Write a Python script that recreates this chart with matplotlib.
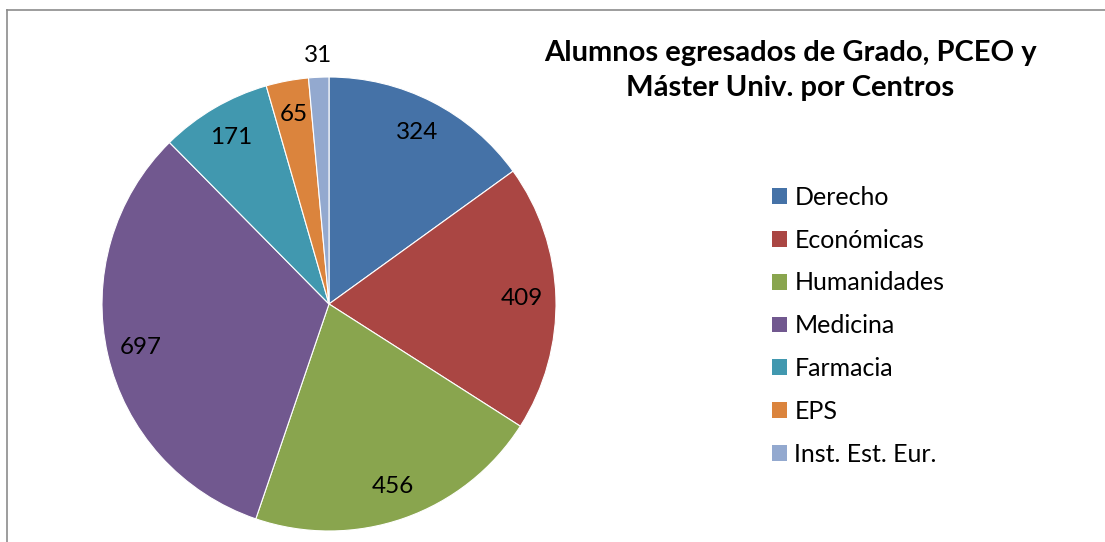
import matplotlib
matplotlib.use("Agg")
from matplotlib import pyplot as plt
from matplotlib.patches import Patch
from matplotlib.lines import Line2D

centros = ["Derecho", "Económicas", "Humanidades", "Medicina",
           "Farmacia", "EPS", "Inst. Est. Eur."]
egresados = [324, 409, 456, 697, 171, 65, 31]
colores = ["#4572A7", "#AA4643", "#89A54E", "#71588F",
           "#4198AF", "#DB843D", "#93A9CF"]
titulo = "Alumnos egresados de Grado, PCEO y\nMáster Univ. por Centros"

plt.rcParams['font.family'] = ['Lato', 'DejaVu Sans']

W, H = 1105, 542
fig = plt.figure(figsize=(W / 100, H / 100), dpi=100)
ax = fig.add_axes([0, 0, 1, 1])

# chart frame (only top and left are visible in the crop)
fig.add_artist(Line2D([6.5 / W, 6.5 / W], [0, 1 - 10 / H], color="#8c8c8c", lw=1.2))
fig.add_artist(Line2D([6.5 / W, 1], [1 - 10 / H, 1 - 10 / H], color="#8c8c8c", lw=1.2))

cx, cy, r = 329, H - 304, 227
wedges, texts = ax.pie(egresados, colors=colores, startangle=90, counterclock=False,
                       center=(cx, cy), radius=r, labels=[str(v) for v in egresados],
                       labeldistance=0.85, frame=True,
                       wedgeprops=dict(edgecolor="white", linewidth=0.8),
                       textprops=dict(fontsize=17.5, color="black",
                                      ha="center", va="center"))
ax.set_xlim(0, W)
ax.set_ylim(0, H)
ax.set_aspect("auto")
ax.axis("off")
# small slice label sits outside the pie
texts[-1].set_position((318, H - 55))

fig.text(790 / W, 1 - 70.5 / H, titulo, ha="center", va="center",
         fontsize=21, fontweight="bold", linespacing=1.42)

handles = [Patch(facecolor=c, edgecolor="none") for c in colores]
fig.legend(handles, centros, loc="upper left", bbox_to_anchor=(772 / W, 1 - 186 / H),
           frameon=False, fontsize=18, handlelength=0.6, handleheight=0.6,
           handletextpad=0.3, labelspacing=0.79, borderpad=0, borderaxespad=0)

fig.savefig("out.png", dpi=100)
